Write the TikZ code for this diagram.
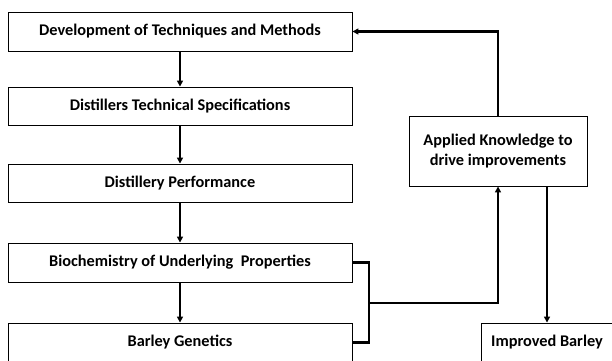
\documentclass[tikz,border=0pt]{standalone}
\usepackage{fontspec}
\setmainfont{Carlito}
\usetikzlibrary{arrows.meta}
\begin{document}
\begin{tikzpicture}[x=1pt,y=-1pt,
  box/.style={draw=black,line width=0.9pt,fill=white,inner sep=0pt,font=\bfseries\fontsize{16.3}{19.5}\selectfont,align=center},
  conn/.style={line width=2.2pt},
  arr/.style={conn,-{Triangle[length=6pt,width=6pt]}}]
\useasboundingbox (0,0) rectangle (612,360);
\begin{scope}
\clip (0,0) rectangle (612,360);
\node[box,minimum width=344pt,minimum height=39pt] (dev) at (180,31.5) {Development of Techniques and Methods};
\node[box,minimum width=344pt,minimum height=38pt] (spec) at (180,106) {Distillers Technical Specifications};
\node[box,minimum width=344pt,minimum height=38pt] (perf) at (180,183) {Distillery Performance};
\node[box,minimum width=344pt,minimum height=39pt] (bio) at (180,262.5) {Biochemistry of Underlying\ \ Properties};
\node[box,minimum width=344pt,minimum height=39pt] (gen) at (180,342.5) {Barley Genetics};
\node[box,minimum width=178pt,minimum height=70pt] (app) at (498,151) {Applied Knowledge to\\drive improvements};
\node[box,minimum width=132pt,minimum height=39pt] (imp) at (547,342.5) {Improved Barley};
\coordinate (j) at (369,303);
\draw[arr] (dev) -- (spec);
\draw[arr] (spec) -- (perf);
\draw[arr] (perf) -- (bio);
\draw[arr] (bio) -- (gen);
\draw[arr] (app.north) |- (dev.east);
\draw[conn] (bio.east) -| (j) |- (gen.east);
\draw[arr] (j) -| (app.south);
\draw[arr] (app.south -| imp.north) -- (imp.north);
\end{scope}
\end{tikzpicture}
\end{document}
